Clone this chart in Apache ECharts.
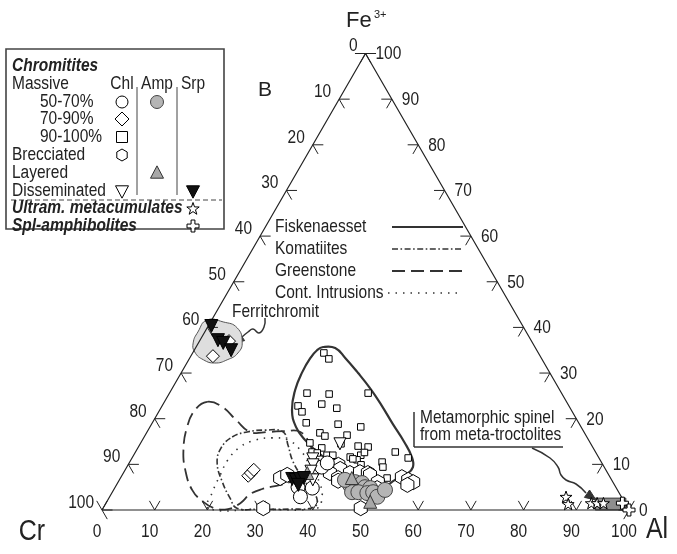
<!DOCTYPE html>
<html>
<head>
<meta charset="utf-8">
<script src="https://cdn.jsdelivr.net/npm/echarts@6/dist/echarts.min.js"></script>
<style>
  html, body { margin: 0; padding: 0; background: #fff; }
  #chart { width: 677px; height: 554px; }
</style>
</head>
<body>
<div id="chart"></div>
<script>
// Spinel compositions as [Al, Fe3+] in %, Cr = 100 - Al - Fe3+
const tickValues = [0, 10, 20, 30, 40, 50, 60, 70, 80, 90, 100];

// Massive chromitite, 50-70 % spinel, chlorite matrix
const chlMassive50 = [[34.7, 5.0], [36.2, 2.9], [37.0, 9.4], [37.5, 4.8], [37.6, 10.3]];
// Massive chromitite, 70-90 %, chlorite matrix
const chlMassive70 = [[5.6, 37.0], [4.2, 33.7], [24.0, 7.5], [24.2, 8.1], [24.4, 8.8]];
// Massive chromitite, 90-100 %, chlorite matrix
const chlMassive90 = [
  [24.9, 34.4], [26.5, 33.1], [26.1, 25.6], [30.4, 25.4], [37.7, 25.6], [25.8, 22.8], [27.2, 21.5],
  [30.1, 23.2], [33.4, 22.3], [29.2, 19.1], [35.4, 18.8], [40.0, 18.2], [32.9, 16.9], [34.2, 16.2],
  [38.3, 16.4], [38.1, 14.5], [41.6, 14.0], [43.6, 13.8], [49.3, 12.7], [52.4, 11.4], [34.9, 13.6],
  [33.5, 12.7], [34.6, 12.5], [36.7, 12.0], [37.8, 12.0], [41.3, 11.6], [43.1, 12.0], [43.5, 12.6],
  [42.9, 11.0], [47.9, 10.5], [48.6, 9.4], [44.2, 9.9], [50.6, 7.0], [42.0, 11.2], [32.1, 14.7]
];
// Brecciated chromitite, chlorite matrix
const chlBrecciated = [
  [30.3, 7.0], [31.3, 7.7], [30.4, 0.4], [38.9, 9.4], [39.9, 9.9], [40.7, 9.0], [39.2, 8.1],
  [41.3, 7.0], [43.0, 8.1], [44.8, 8.3], [46.4, 8.1], [47.0, 7.7], [49.3, 6.1], [49.8, 4.8],
  [53.3, 7.2], [54.8, 6.6], [56.0, 6.1], [55.2, 5.5], [48.9, 0.4], [41.6, 6.4]
];
// Disseminated chromite, chlorite matrix
const chlDisseminated = [[34.4, 11.2], [35.1, 9.9], [35.4, 8.5], [37.9, 14.5], [36.7, 6.6]];
// Massive chromitite, 50-70 %, amphibole matrix
const ampMassive50 = [
  [44.3, 5.5], [45.0, 6.1], [46.4, 5.9], [47.4, 5.0], [48.5, 4.8], [45.5, 3.9], [46.7, 3.9],
  [48.5, 3.7], [49.5, 3.9], [50.8, 2.9], [51.5, 4.4], [42.8, 6.6]
];
// Layered chromitite, amphibole matrix
const ampLayered = [[50.0, 1.8], [43.9, 7.0], [34.9, 8.1]];
// Disseminated chromite, serpentine matrix
const srpDisseminated = [
  [32.7, 6.8], [33.5, 6.6], [34.2, 6.8], [34.8, 7.0], [34.5, 5.5],
  [0.6, 40.3], [3.4, 37.2], [4.7, 36.6], [7.0, 35.0]
];
// Ultramafic metacumulates
const metacumulates = [[86.6, 2.9], [87.8, 1.3], [92.1, 1.5], [93.2, 1.5], [94.4, 1.5]];
// Spinel amphibolites
const amphibolites = [[98.0, 1.5], [100.0, 0.0]];

// Compositional fields
const fiskenaessetField = [
  [24.1, 35.7], [26.5, 35.5], [29.5, 33.3], [33.6, 30.0], [37.5, 26.7], [41.3, 23.2], [45.8, 18.8],
  [49.9, 14.9], [53.0, 11.6], [54.3, 9.4], [53.9, 7.9], [52.3, 6.6], [50.8, 5.0], [46.9, 6.1],
  [41.7, 8.8], [37.9, 10.7], [34.5, 12.7], [30.9, 15.3], [27.7, 18.2], [25.1, 21.9], [23.5, 26.3],
  [22.9, 30.2], [22.9, 33.3], [23.3, 35.0]
];
const komatiiteField = [
  [16.7, 16.0], [19.0, 17.1], [22.2, 17.5], [25.8, 17.1], [28.2, 14.2], [30.6, 11.0], [33.8, 7.7],
  [37.2, 4.6], [39.6, 2.4], [39.9, 0.6], [35.6, 0.2], [29.9, 0.2], [25.4, 0.4], [23.0, 2.6],
  [19.8, 6.1], [16.7, 10.3], [15.8, 13.6]
];
const greenstoneField = [
  [8.1, 23.7], [11.5, 22.6], [15.6, 19.7], [19.6, 17.1], [23.0, 17.1], [26.1, 17.3], [29.1, 17.1],
  [32.4, 14.2], [35.4, 10.5], [37.1, 7.9], [34.2, 6.8], [31.1, 5.5], [28.1, 4.6], [26.4, 3.5],
  [25.5, 1.5], [23.8, 0.2], [21.1, 0.4], [18.3, 1.8], [14.9, 4.4], [11.4, 8.8], [8.9, 13.1],
  [7.1, 18.0], [6.7, 21.9]
];
const intrusionField = [
  [19.9, 0.4], [19.0, 3.9], [18.6, 7.7], [18.4, 11.0], [19.3, 13.8], [21.4, 15.3], [24.4, 15.8],
  [27.7, 15.3], [31.1, 13.1], [34.7, 9.6], [38.7, 5.5], [40.5, 2.4], [40.6, 0.4], [29.9, 0.2]
];
const ferritchromitField = [
  [-0.9, 41.6], [2.4, 41.2], [5.7, 39.9], [8.2, 36.8], [8.6, 34.4], [7.3, 32.9], [5.3, 32.2],
  [2.8, 32.9], [0.3, 34.6], [-1.0, 36.6], [-1.3, 39.0]
];
const metaTroctoliteField = [[92.3, 2.6], [98.1, 2.6], [99.4, 0.0], [93.6, 0.0]];

// ---------------------------------------------------------------------------
const SANS = '"Liberation Sans", Arial, Helvetica, sans-serif';
const TALL = 1.15;           // vertical stretch giving the tall, narrow lettering
const H = Math.sqrt(3) / 2;
const toXY = ([al, fe]) => [al + fe / 2, fe * H];

const HEX = 'path://M0,-10L8.66,-5L8.66,5L0,10L-8.66,5L-8.66,-5Z';
const STAR = 'path://M0,-10L2.35,-3.24L9.51,-3.09L3.8,1.24L5.88,8.09L0,4L-5.88,8.09L-3.8,1.24L-9.51,-3.09L-2.35,-3.24Z';
const PLUS = 'path://M-1.6,-5H1.6V-1.6H5V1.6H1.6V5H-1.6V1.6H-5V-1.6H-1.6Z';

function scatter(data, symbol, size, fill, stroke, z, rotate) {
  return {
    type: 'scatter', data: data.map(toXY), symbol, symbolSize: size, symbolRotate: rotate || 0,
    symbolKeepAspect: true, clip: false, silent: true, z,
    itemStyle: { color: fill, borderColor: stroke, borderWidth: 1, opacity: 1 }
  };
}

function field(points, style, smooth, z) {
  return {
    type: 'custom', coordinateSystem: 'cartesian2d', clip: false, silent: true, z,
    data: [[0, 0]],
    renderItem(params, api) {
      return {
        type: 'polygon',
        shape: { points: points.map(p => api.coord(toXY(p))), smooth },
        style
      };
    }
  };
}

const frame = {
  type: 'line', data: [[0, 0], [100, 0], [0, 100], [0, 0]].map(toXY),
  symbol: 'none', silent: true, z: 4, clip: false,
  lineStyle: { color: '#222', width: 1.2 }
};

const ticks = {
  type: 'custom', coordinateSystem: 'cartesian2d', clip: false, silent: true, z: 4,
  data: tickValues.map(v => [v, 0]),
  renderItem(params, api) {
    const v = api.value(0), L = 2;
    const c = p => api.coord(toXY(p));
    const seg = (a, b) => {
      const p = c(a), q = c(b);
      return { type: 'line', shape: { x1: p[0], y1: p[1], x2: q[0], y2: q[1] },
               style: { stroke: '#222', lineWidth: 1 } };
    };
    const txt = (p, dx, dy, align) => {
      const q = c(p);
      return { type: 'text', x: q[0] + dx, y: q[1] + dy, scaleY: TALL,
               style: { text: String(v), fill: '#222', font: '15.5px ' + SANS,
                        align, verticalAlign: 'middle' } };
    };
    return {
      type: 'group',
      children: [
        // Al axis (bottom)
        seg([v, 0], [v - L, L]), seg([v, 0], [v, L]),
        // Cr axis (left)
        seg([0, 100 - v], [L, 100 - v]), seg([0, 100 - v], [L, 100 - v - L]),
        // Fe3+ axis (right)
        seg([100 - v, v], [100 - v - L, v]), seg([100 - v, v], [100 - v, v - L]),
        txt([v, 0], -5, 22, 'center'),
        txt([0, 100 - v], -8, -7, 'right'),
        txt([100 - v, v], 10, 1, 'left')
      ]
    };
  }
};

const DARK = '#333';
const series = [
  field(ferritchromitField, { fill: '#dedede', stroke: '#555', lineWidth: 1 }, 0.5, 1),
  field(metaTroctoliteField, { fill: '#8e8e8e', stroke: '#333', lineWidth: 1 }, 0, 1),
  field(greenstoneField, { fill: 'none', stroke: DARK, lineWidth: 1.8, lineDash: [13, 6] }, 0.45, 2),
  field(komatiiteField, { fill: 'none', stroke: DARK, lineWidth: 1.6, lineDash: [6, 2.5, 1.6, 2.5] }, 0.45, 2),
  field(intrusionField, { fill: 'none', stroke: DARK, lineWidth: 1.6, lineDash: [1.5, 6] }, 0.45, 2),
  field(fiskenaessetField, { fill: 'none', stroke: DARK, lineWidth: 2.2, lineDash: null }, 0.45, 2),
  frame,
  ticks,
  scatter(chlMassive90, 'rect', 6.5, '#fff', '#000', 5),
  scatter(chlBrecciated, HEX, 15, '#fff', '#000', 6),
  scatter(chlMassive50, 'circle', 14, '#fff', '#000', 6),
  scatter(chlMassive70, 'diamond', 13, '#fff', '#000', 6),
  scatter(chlDisseminated, 'triangle', 12, '#fff', '#000', 6, 180),
  scatter(ampMassive50, 'circle', 15, '#b5b5b5', '#444', 7),
  scatter(ampLayered, 'triangle', 13, '#a8a8a8', '#333', 7),
  scatter(srpDisseminated, 'triangle', 13, '#111', '#000', 8, 180),
  scatter(metacumulates, STAR, 12, '#fff', '#000', 8),
  scatter(amphibolites, PLUS, 12, '#fff', '#000', 8)
];

// ---------------------------------------------------------------------------
// annotation helpers (screen space)
function arrowHead(tip, from, len, half) {
  const dx = tip[0] - from[0], dy = tip[1] - from[1], d = Math.hypot(dx, dy);
  const ux = dx / d, uy = dy / d;
  const bx = tip[0] - ux * len, by = tip[1] - uy * len;
  return [tip, [bx - uy * half, by + ux * half], [bx + uy * half, by - ux * half]];
}
const text = (x, y, s, font, align, sy) => ({
  type: 'text', x, y, silent: true, scaleY: sy || TALL,
  style: { text: s, fill: '#222', font, align: align || 'left', verticalAlign: 'middle' }
});
const line = (x1, y1, x2, y2, style) => ({
  type: 'line', silent: true, shape: { x1, y1, x2, y2 },
  style: Object.assign({ stroke: '#222', lineWidth: 1 }, style)
});
const poly = (points, fill, stroke) => ({
  type: 'polygon', silent: true, shape: { points },
  style: { fill, stroke: stroke || '#000', lineWidth: 1 }
});

const F = '15.5px ' + SANS;
const FBI = 'italic bold 15.5px ' + SANS;

// legend symbols
const sym = {
  circle: (x, y, r, fill, stroke) => ({ type: 'circle', silent: true, shape: { cx: x, cy: y, r },
    style: { fill, stroke: stroke || '#000', lineWidth: 1 } }),
  diamond: (x, y, r) => poly([[x, y - r], [x + r, y], [x, y + r], [x - r, y]], '#fff'),
  square: (x, y, r) => ({ type: 'rect', silent: true, shape: { x: x - r, y: y - r, width: 2 * r, height: 2 * r },
    style: { fill: '#fff', stroke: '#000', lineWidth: 1 } }),
  hexagon: (x, y, r) => poly([-90, -30, 30, 90, 150, 210].map(a =>
    [x + r * Math.cos(a * Math.PI / 180), y + r * Math.sin(a * Math.PI / 180)]), '#fff'),
  up: (x, y, w, fill, stroke) => poly([[x, y - w * 0.55], [x + w / 2, y + w * 0.4], [x - w / 2, y + w * 0.4]], fill, stroke),
  down: (x, y, w, fill) => poly([[x - w / 2, y - w * 0.4], [x + w / 2, y - w * 0.4], [x, y + w * 0.55]], fill),
  star: (x, y, s) => poly([[0, -10], [2.35, -3.24], [9.51, -3.09], [3.8, 1.24], [5.88, 8.09], [0, 4],
    [-5.88, 8.09], [-3.8, 1.24], [-9.51, -3.09], [-2.35, -3.24]].map(p => [x + p[0] * s, y + p[1] * s]), '#fff'),
  plus: (x, y, s) => poly([[-1.6, -5], [1.6, -5], [1.6, -1.6], [5, -1.6], [5, 1.6], [1.6, 1.6], [1.6, 5],
    [-1.6, 5], [-1.6, 1.6], [-5, 1.6], [-5, -1.6], [-1.6, -1.6]].map(p => [x + p[0] * s, y + p[1] * s]), '#fff')
};

const cChl = 122, cAmp = 157, cSrp = 193;
const legendBox = [
  { type: 'rect', silent: true, shape: { x: 6, y: 49, width: 218, height: 180 },
    style: { fill: '#fff', stroke: '#444', lineWidth: 1.6 } },
  text(12, 66, 'Chromitites', FBI),
  text(12, 84, 'Massive', F),
  text(cChl, 84, 'Chl', F, 'center'),
  text(cAmp, 84, 'Amp', F, 'center'),
  text(cSrp, 84, 'Srp', F, 'center'),
  line(137, 87, 137, 195, { stroke: '#444' }),
  line(177, 87, 177, 195, { stroke: '#444' }),
  text(40, 102, '50-70%', F),
  text(40, 119, '70-90%', F),
  text(40, 137, '90-100%', F),
  text(12, 155, 'Brecciated', F),
  text(12, 173, 'Layered', F),
  text(12, 191, 'Disseminated', F),
  sym.circle(cChl, 102, 6, '#fff'),
  sym.circle(cAmp, 102, 6.5, '#b5b5b5', '#444'),
  sym.diamond(cChl, 119, 7),
  sym.square(cChl, 137, 5.5),
  sym.hexagon(cChl, 155, 6),
  sym.up(cAmp, 173, 13, '#a8a8a8', '#333'),
  sym.down(cChl, 191, 13, '#fff'),
  sym.down(cSrp, 191, 13, '#111'),
  line(11, 200, 222, 200, { stroke: '#444', lineDash: [5, 3] }),
  text(12, 208, 'Ultram. metacumulates', FBI),
  sym.star(cSrp, 209, 0.65),
  text(12, 226, 'Spl-amphibolites', FBI),
  sym.plus(cSrp, 226, 1.2)
];

const fieldKey = [
  text(275, 227, 'Fiskenaesset', F),
  line(392, 227, 463, 227, { stroke: DARK, lineWidth: 2 }),
  text(275, 249, 'Komatiites', F),
  line(392, 249, 463, 249, { stroke: DARK, lineWidth: 1.6, lineDash: [6, 2.5, 1.6, 2.5] }),
  text(275, 271, 'Greenstone', F),
  line(392, 271, 463, 271, { stroke: DARK, lineWidth: 1.8, lineDash: [13, 6] }),
  text(275, 293, 'Cont. Intrusions', F),
  line(388, 293, 463, 293, { stroke: DARK, lineWidth: 1.6, lineDash: [1.5, 6] })
];

const ferriArrow = [[265, 318], [264, 327], [259, 333], [253, 329], [248, 332], [242, 337]];
const spinelArrow = [[532, 448], [550, 458], [558, 467], [561, 475], [566, 480], [576, 484], [586, 493]];

const annotations = [
  text(232, 312, 'Ferritchromit', F),
  { type: 'polyline', silent: true, shape: { points: ferriArrow, smooth: 0.5 },
    style: { stroke: '#333', lineWidth: 1.5, fill: null } },
  poly(arrowHead([233, 343], ferriArrow[ferriArrow.length - 1], 11, 4.5), '#333', '#333'),
  text(420, 418, 'Metamorphic spinel', F),
  text(420, 435, 'from meta-troctolites', F),
  line(414, 412, 414, 447, { stroke: '#333', lineWidth: 1.5 }),
  line(414, 447, 563, 447, { stroke: '#333', lineWidth: 1.5 }),
  { type: 'polyline', silent: true, shape: { points: spinelArrow, smooth: 0.5 },
    style: { stroke: '#333', lineWidth: 1.5, fill: null } },
  poly(arrowHead([596, 500], spinelArrow[spinelArrow.length - 1], 11, 4.5), '#333', '#333'),
  text(265, 90, 'B', '21px ' + SANS, 'center', 1),
  text(32, 532, 'Cr', '25px ' + SANS, 'center'),
  text(657, 530, 'Al', '25px ' + SANS, 'center'),
  text(346, 21, 'Fe', '22px ' + SANS, 'left', 1),
  text(374, 15, '3+', '11px ' + SANS, 'left', 1)
];

const chart = echarts.init(document.getElementById('chart'), null, { renderer: 'canvas' });
chart.setOption({
  animation: false,
  backgroundColor: '#fff',
  grid: { left: 102, top: 53.5, width: 527, height: 456.5, show: false },
  xAxis: { type: 'value', min: 0, max: 100, show: false },
  yAxis: { type: 'value', min: 0, max: 100 * H, show: false },
  series,
  graphic: { elements: legendBox.concat(fieldKey, annotations) }
});
</script>
</body>
</html>
